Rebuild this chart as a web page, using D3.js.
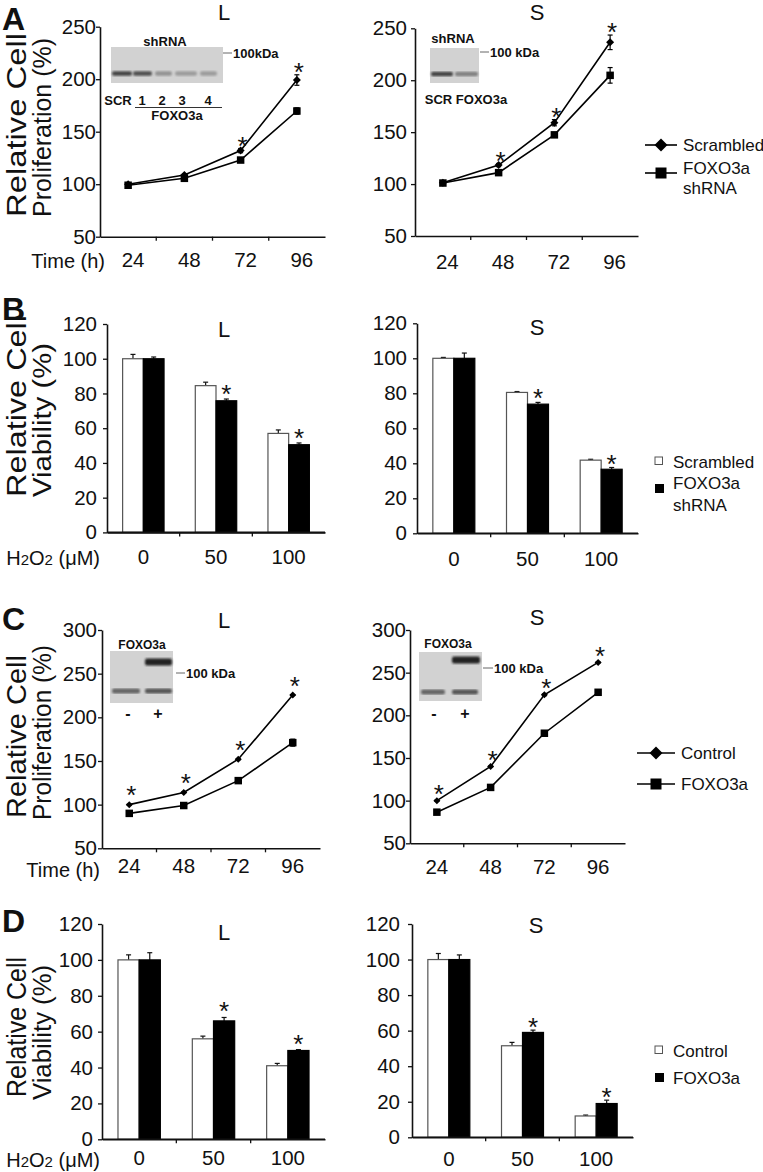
<!DOCTYPE html>
<html><head><meta charset="utf-8">
<script src="https://cdn.jsdelivr.net/npm/d3@7"></script>
<style>
body{margin:0;background:#fff}
svg{display:block}
text{font-family:"Liberation Sans",Arial,Helvetica,sans-serif;fill:#111}
</style>
</head><body>
<svg id="chart" width="763" height="1172"></svg>
<script>
// ---------------- DATA ----------------
const timeLabels = ["24", "48", "72", "96"];
const doseLabels = ["0", "50", "100"];
const profTicksA = [50, 100, 150, 200, 250];
const profTicksC = [50, 100, 150, 200, 250, 300];
const viabTicks = [0, 20, 40, 60, 80, 100, 120];

// Panel A (proliferation, shRNA)
const aL_scrambled = [100, 108.8, 132, 199.2];
const aL_scrambledErr = [1, 1, 2, 5];
const aL_shrna = [99, 105.6, 123, 169.7];
const aL_shrnaErr = [1, 1, 1.5, 3];
const aL_sig = [0, 0, 1, 1];

const aR_scrambled = [101.3, 118.3, 159.1, 236.5];
const aR_scrambledErr = [1, 1.5, 3, 7];
const aR_shrna = [101, 111, 147.4, 204.7];
const aR_shrnaErr = [1, 1, 1.5, 7.5];
const aR_sig = [0, 1, 1, 1];

// Panel B (viability, shRNA)
const bL_scrambled = [100, 84.5, 57];
const bL_scrambledErr = [2.5, 2, 2];
const bL_shrna = [100, 75.8, 50.5];
const bL_shrnaErr = [1, 1, 1];
const bL_sig = [0, 1, 1];

const bR_scrambled = [100, 80.5, 41.8];
const bR_scrambledErr = [0.5, 0.5, 0.5];
const bR_shrna = [100, 73.8, 36.6];
const bR_shrnaErr = [3, 1, 1];
const bR_sig = [0, 1, 1];

// Panel C (proliferation, overexpression)
const cL_control = [100, 114, 152, 225.5];
const cL_controlErr = [0.5, 0.5, 0.5, 0.5];
const cL_foxo = [90, 99, 127.5, 171];
const cL_foxoErr = [1, 1, 1, 4];
const cL_sig = [1, 1, 1, 1];

const cR_control = [100, 140, 224, 262];
const cR_controlErr = [0.5, 0.5, 1, 0.5];
const cR_foxo = [86.5, 115.5, 179, 227];
const cR_foxoErr = [0.5, 0.5, 0.5, 0.5];
const cR_sig = [1, 1, 1, 1];

// Panel D (viability, overexpression)
const dL_control = [100, 56, 41];
const dL_controlErr = [2.8, 1.5, 1.3];
const dL_foxo = [100, 66, 49.5];
const dL_foxoErr = [4, 1.9, 0.5];
const dL_sig = [0, 1, 1];

const dR_control = [100, 51.5, 12];
const dR_controlErr = [3.4, 1.9, 0.5];
const dR_foxo = [100, 59, 19];
const dR_foxoErr = [2.6, 1.3, 1.9];
const dR_sig = [0, 1, 1];

// Legends and labels
const legendShrna = ["Scrambled", ["FOXO3a", "shRNA"]];
const legendOver = ["Control", ["FOXO3a"]];
const blotA_L_lanes = ["SCR", "1", "2", "3", "4"];
const blotA_L_intensity = [0.78, 0.72, 0.35, 0.3, 0.3];
const blotA_R_intensity = [0.78, 0.45];
const blotC_upper = [0, 0.95];
const blotC_lower = [0.6, 0.68];

// ---------------- DRAWING ----------------
const FONT = '"Liberation Sans",Arial,Helvetica,sans-serif';
const svg = d3.select("#chart");

function styleAxis(a) {
  a.attr("font-family", FONT).attr("font-size", 20.5);
  a.select(".domain").attr("stroke", "#111").attr("stroke-width", 1.6);
  a.selectAll(".tick line").attr("stroke", "#111").attr("stroke-width", 1.3);
  a.selectAll(".tick text").attr("fill", "#111");
}

function diamond(g, cx, cy, r) {
  g.append("path").attr("d", `M${cx},${cy - r}L${cx + r},${cy}L${cx},${cy + r}L${cx - r},${cy}Z`).attr("fill", "#000");
}
function square(g, cx, cy, s) {
  g.append("rect").attr("x", cx - s / 2).attr("y", cy - s / 2).attr("width", s).attr("height", s).attr("fill", "#000");
}

function star(g, x, y) {
  g.append("text").attr("x", x).attr("y", y + 15).attr("text-anchor", "middle")
    .attr("font-size", 26).text("*");
}

function titleText(x, base, t) {
  svg.append("text").attr("x", x).attr("y", base).attr("text-anchor", "middle").attr("font-size", 22).text(t);
}
function panelLetter(base, t) {
  svg.append("text").attr("x", 2).attr("y", base).attr("font-size", 32).attr("font-weight", "bold").text(t);
}
function yLabel(lines) {
  lines.forEach(l => {
    svg.append("text").attr("transform", `translate(${l.x},${l.y}) rotate(-90)`)
      .attr("font-size", l.fs).attr("textLength", l.len).attr("lengthAdjust", "spacingAndGlyphs")
      .text(l.t);
  });
}
function h2o2(x, base) {
  const t = svg.append("text").attr("x", x).attr("y", base).attr("text-anchor", "end").attr("font-size", 20);
  t.append("tspan").text("H");
  t.append("tspan").attr("font-size", 15).text("2");
  t.append("tspan").text("O");
  t.append("tspan").attr("font-size", 15).text("2");
  t.append("tspan").text(" (\u03BCM)");
}

function linePanel(o) {
  const g = svg.append("g");
  const y = d3.scaleLinear().domain(o.domain).range([o.bottom, o.top]);
  const x = d3.scaleBand().domain(timeLabels).range([o.left, o.right]);
  const cx = d => x(d) + x.bandwidth() / 2;

  const ya = g.append("g").attr("transform", `translate(${o.left},0)`)
    .call(d3.axisLeft(y).tickValues(o.ticks).tickSizeInner(4).tickSizeOuter(0).tickPadding(o.yPad).tickFormat(d3.format("d")));
  const xa = g.append("g").attr("transform", `translate(0,${o.bottom})`)
    .call(d3.axisBottom(x).tickSize(0).tickPadding(o.xPad));
  xa.selectAll(".tick text").attr("dx", o.xdx);
  d3.range(1, timeLabels.length).forEach(i => {
    xa.append("line").attr("x1", o.left + i * x.step()).attr("x2", o.left + i * x.step())
      .attr("y1", 0).attr("y2", 4).attr("stroke", "#111").attr("stroke-width", 1.3);
  });
  styleAxis(ya); styleAxis(xa);

  const line = d3.line().x((v, i) => cx(timeLabels[i])).y(v => y(v));
  [o.s2, o.s1].forEach(s => {
    g.append("path").attr("d", line(s)).attr("fill", "none").attr("stroke", "#000").attr("stroke-width", 1.6);
  });
  [[o.s1, o.e1], [o.s2, o.e2]].forEach(([s, e]) => {
    s.forEach((v, i) => {
      const px = cx(timeLabels[i]);
      g.append("line").attr("x1", px).attr("x2", px).attr("y1", y(v - e[i])).attr("y2", y(v + e[i])).attr("stroke", "#000").attr("stroke-width", 1.2);
      [v - e[i], v + e[i]].forEach(w => g.append("line").attr("x1", px - 2.5).attr("x2", px + 2.5).attr("y1", y(w)).attr("y2", y(w)).attr("stroke", "#000").attr("stroke-width", 1.2));
    });
  });
  o.s2.forEach((v, i) => square(g, cx(timeLabels[i]), y(v), o.sq));
  o.s1.forEach((v, i) => diamond(g, cx(timeLabels[i]), y(v), o.dm));
  o.sig.forEach((s, i) => {
    if (s) star(g, cx(timeLabels[i]) + 2, y(o.s1[i] + o.e1[i]) - o.starGap);
  });
}

function barPanel(o) {
  const g = svg.append("g");
  const y = d3.scaleLinear().domain([0, 120]).range([o.bottom, o.top]);
  const x = d3.scaleBand().domain(doseLabels).range([o.left, o.right]).paddingInner(0.43).paddingOuter(0.215);
  const xs = d3.scaleBand().domain([0, 1]).range([0, x.bandwidth()]);

  const ya = g.append("g").attr("transform", `translate(${o.left},0)`)
    .call(d3.axisLeft(y).tickValues(viabTicks).tickSizeInner(4).tickSizeOuter(0).tickPadding(o.yPad));
  const xa = g.append("g").attr("transform", `translate(0,${o.bottom})`)
    .call(d3.axisBottom(x).tickSize(0).tickPadding(o.xPad));
  d3.range(1, doseLabels.length).forEach(i => {
    xa.append("line").attr("x1", o.left + i * x.step()).attr("x2", o.left + i * x.step())
      .attr("y1", 0).attr("y2", 4).attr("stroke", "#111").attr("stroke-width", 1.3);
  });
  styleAxis(ya); styleAxis(xa);

  const series = [[o.s1, o.e1, "#fff"], [o.s2, o.e2, "#000"]];
  series.forEach(([s, e, fill], k) => {
    s.forEach((v, i) => {
      const bx = x(doseLabels[i]) + xs(k);
      const bw = xs.bandwidth();
      const mid = bx + bw / 2;
      g.append("line").attr("x1", mid).attr("x2", mid).attr("y1", y(v)).attr("y2", y(v + e[i])).attr("stroke", "#111").attr("stroke-width", 1.2);
      g.append("line").attr("x1", mid - 2.5).attr("x2", mid + 2.5).attr("y1", y(v + e[i])).attr("y2", y(v + e[i])).attr("stroke", "#111").attr("stroke-width", 1.2);
      g.append("rect").attr("x", bx).attr("y", y(v)).attr("width", bw).attr("height", y(0) - y(v))
        .attr("fill", fill).attr("stroke", k === 0 ? "#555" : "#000").attr("stroke-width", 1.2);
    });
  });
  g.append("line").attr("x1", o.left).attr("x2", o.right).attr("y1", y(0)).attr("y2", y(0)).attr("stroke", "#111").attr("stroke-width", 1.6);
  o.sig.forEach((s, i) => {
    if (s) {
      const mid = x(doseLabels[i]) + xs(1) + xs.bandwidth() / 2;
      star(g, mid, y(o.s2[i] + o.e2[i]) - o.starGap);
    }
  });
}

function lineLegend(x0, x1, yd, ys, labels) {
  const g = svg.append("g");
  g.append("line").attr("x1", x0).attr("x2", x1).attr("y1", yd).attr("y2", yd).attr("stroke", "#000").attr("stroke-width", 1.6);
  diamond(g, (x0 + x1) / 2, yd, 6.5);
  g.append("text").attr("x", x1 + 6).attr("y", yd + 6).attr("font-size", 17).text(labels[0]);
  g.append("line").attr("x1", x0).attr("x2", x1).attr("y1", ys).attr("y2", ys).attr("stroke", "#000").attr("stroke-width", 1.6);
  square(g, (x0 + x1) / 2, ys, 11);
  labels[1].forEach((t, i) => g.append("text").attr("x", x1 + 6).attr("y", ys + 1 + i * 20 + (labels[1].length > 1 ? 0 : 5)).attr("font-size", 17).text(t));
}

function barLegend(x, yw, yb, tx, labels) {
  const g = svg.append("g");
  g.append("rect").attr("x", x).attr("y", yw).attr("width", 7.5).attr("height", 7.5).attr("fill", "#fff").attr("stroke", "#555").attr("stroke-width", 1);
  g.append("text").attr("x", tx).attr("y", yw + 11).attr("font-size", 17).text(labels[0]);
  g.append("rect").attr("x", x).attr("y", yb).attr("width", 9).attr("height", 9).attr("fill", "#000");
  labels[1].forEach((t, i) => g.append("text").attr("x", tx).attr("y", yb + 5 + i * 22 + (labels[1].length > 1 ? 0 : 6)).attr("font-size", 17).text(t));
}

const defs = svg.append("defs");
defs.append("filter").attr("id", "blur").append("feGaussianBlur").attr("stdDeviation", 0.9);
const bandColor = d3.interpolateRgb("#d2d2d2", "#1a1a1a");
function blotRect(x, y, w, h) {
  svg.append("rect").attr("x", x).attr("y", y).attr("width", w).attr("height", h).attr("fill", "#d2d2d2");
}
function band(x0, x1, yc, h, inten) {
  if (inten <= 0) return;
  svg.append("rect").attr("x", x0).attr("y", yc - h / 2).attr("width", x1 - x0).attr("height", h).attr("rx", 2)
    .attr("fill", bandColor(inten)).attr("filter", "url(#blur)");
}
function btext(x, base, t, fs, anchor) {
  svg.append("text").attr("x", x).attr("y", base).attr("font-size", fs).attr("font-weight", "bold")
    .attr("text-anchor", anchor || "middle").text(t);
}
function kda(x0, x1, yl, t) {
  svg.append("line").attr("x1", x0).attr("x2", x1).attr("y1", yl).attr("y2", yl).attr("stroke", "#666").attr("stroke-width", 1);
  btext(x1 + 1, yl + 5, t, 13, "start");
}

// ---- Panel A ----
panelLetter(30, "A");
titleText(224, 20, "L");
titleText(537, 20, "S");
yLabel([{ x: 26, y: 217, fs: 28, len: 184, t: "Relative Cell" }, { x: 51, y: 217, fs: 26, len: 179, t: "Proliferation (%)" }]);
svg.append("text").attr("x", 105).attr("y", 268).attr("text-anchor", "end").attr("font-size", 20).text("Time (h)");
linePanel({ left: 100, right: 325, top: 26.7, bottom: 236.7, domain: [50, 250], ticks: profTicksA, yPad: 0, xPad: 16, xdx: 5,
  s1: aL_scrambled, e1: aL_scrambledErr, s2: aL_shrna, e2: aL_shrnaErr, sig: aL_sig, dm: 4, sq: 7.5, starGap: 9 });
linePanel({ left: 415, right: 638, top: 28.3, bottom: 236, domain: [50, 250], ticks: profTicksA, yPad: 4, xPad: 18, xdx: 4.5,
  s1: aR_scrambled, e1: aR_scrambledErr, s2: aR_shrna, e2: aR_shrnaErr, sig: aR_sig, dm: 4, sq: 7.5, starGap: 9 });
lineLegend(645, 677, 145, 173, legendShrna);

blotRect(111, 47, 112, 36);
[[112, 132], [133, 152], [155, 172], [175, 197], [200, 217]].forEach((l, i) => band(l[0], l[1], 73.5, 4.5, blotA_L_intensity[i]));
btext(165, 46, "shRNA", 13);
kda(223, 232, 53, "100kDa");
[118, 142, 162, 182, 208].forEach((cx, i) => btext(cx, 105, blotA_L_lanes[i], 13));
svg.append("line").attr("x1", 135).attr("x2", 222).attr("y1", 107.5).attr("y2", 107.5).attr("stroke", "#333").attr("stroke-width", 1);
btext(177, 120, "FOXO3a", 13);

blotRect(430, 48, 49, 35);
[[431, 453], [455, 478]].forEach((l, i) => band(l[0], l[1], 74, 4.5, blotA_R_intensity[i]));
btext(453, 43, "shRNA", 13);
kda(480, 489, 52, "100 kDa");
btext(466, 104, "SCR FOXO3a", 13);

// ---- Panel B ----
panelLetter(320, "B");
titleText(224, 337, "L");
titleText(537, 335, "S");
yLabel([{ x: 26, y: 497, fs: 28, len: 182, t: "Relative Cell" }, { x: 51, y: 497, fs: 26, len: 154, t: "Viability (%)" }]);
h2o2(100, 565);
barPanel({ left: 107, right: 325, top: 324, bottom: 532.4, yPad: 6, xPad: 17,
  s1: bL_scrambled, e1: bL_scrambledErr, s2: bL_shrna, e2: bL_shrnaErr, sig: bL_sig, starGap: 11 });
barPanel({ left: 417, right: 638, top: 323.3, bottom: 533.3, yPad: 6, xPad: 18,
  s1: bR_scrambled, e1: bR_scrambledErr, s2: bR_shrna, e2: bR_shrnaErr, sig: bR_sig, starGap: 10 });
barLegend(655, 457, 484, 673, legendShrna);

// ---- Panel C ----
panelLetter(630, "C");
titleText(224, 628, "L");
titleText(537, 625, "S");
yLabel([{ x: 26, y: 818, fs: 28, len: 163, t: "Relative Cell" }, { x: 51, y: 820, fs: 26, len: 175, t: "Proliferation (%)" }]);
svg.append("text").attr("x", 100).attr("y", 877).attr("text-anchor", "end").attr("font-size", 20).text("Time (h)");
linePanel({ left: 102, right: 320, top: 630, bottom: 848.3, domain: [50, 300], ticks: profTicksC, yPad: 1, xPad: 10, xdx: 0,
  s1: cL_control, e1: cL_controlErr, s2: cL_foxo, e2: cL_foxoErr, sig: cL_sig, dm: 3.5, sq: 7.5, starGap: 15 });
linePanel({ left: 410, right: 625, top: 630, bottom: 843.3, domain: [50, 300], ticks: profTicksC, yPad: 0, xPad: 16, xdx: 0,
  s1: cR_control, e1: cR_controlErr, s2: cR_foxo, e2: cR_foxoErr, sig: cR_sig, dm: 3.5, sq: 7.5, starGap: 12 });
lineLegend(637, 675, 753, 784, legendOver);

blotRect(110, 651, 63, 52);
[[112, 140], [145, 172]].forEach((l, i) => band(l[0], l[1], 662, 7, blotC_upper[i]));
[[112, 140], [145, 172]].forEach((l, i) => band(l[0], l[1], 691, 5, blotC_lower[i]));
btext(142, 649, "FOXO3a", 12);
kda(176, 185, 673, "100 kDa");
btext(128, 719, "-", 16);
btext(158, 719, "+", 16);

blotRect(419, 652, 63, 49);
[[421, 445], [452, 480]].forEach((l, i) => band(l[0], l[1], 660, 7, blotC_upper[i]));
[[421, 445], [452, 478]].forEach((l, i) => band(l[0], l[1], 692, 5, blotC_lower[i]));
btext(448, 648, "FOXO3a", 12);
kda(483, 493, 668, "100 kDa");
btext(434, 719, "-", 16);
btext(465, 719, "+", 16);

// ---- Panel D ----
panelLetter(932, "D");
titleText(224, 940, "L");
titleText(536, 933, "S");
yLabel([{ x: 26, y: 1097, fs: 28, len: 140, t: "Relative Cell" }, { x: 51, y: 1100, fs: 26, len: 135, t: "Viability (%)" }]);
h2o2(100, 1167);
barPanel({ left: 102, right: 325, top: 924, bottom: 1139.3, yPad: 5, xPad: 10.7,
  s1: dL_control, e1: dL_controlErr, s2: dL_foxo, e2: dL_foxoErr, sig: dL_sig, starGap: 12 });
barPanel({ left: 412, right: 633, top: 924, bottom: 1137.3, yPad: 8, xPad: 14,
  s1: dR_control, e1: dR_controlErr, s2: dR_foxo, e2: dR_foxoErr, sig: dR_sig, starGap: 9 });
barLegend(655, 1046, 1073, 673, legendOver);
</script>
</body></html>
